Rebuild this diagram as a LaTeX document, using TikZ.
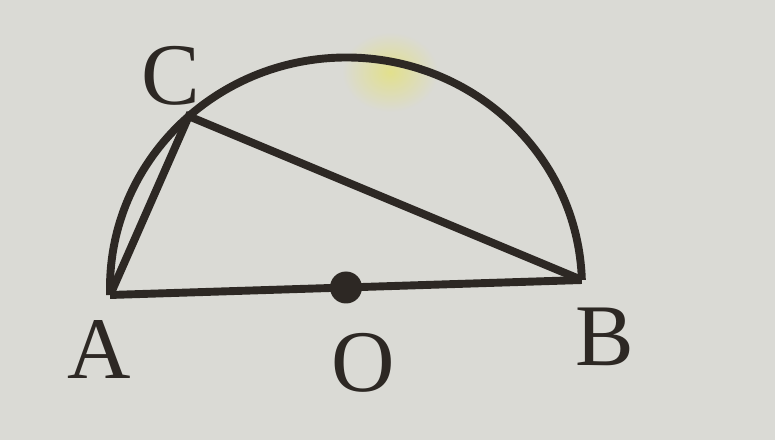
\documentclass[tikz,border=0pt]{standalone}
\usepackage{fontspec}
\setmainfont{Liberation Serif}
\definecolor{paper}{RGB}{218,218,213}
\definecolor{ink}{RGB}{45,40,36}
\definecolor{stain}{RGB}{226,224,140}

\begin{document}
\begin{tikzpicture}[x=0.02cm,y=0.02cm,line width=4.5pt,ink,
  lbl/.style={font=\fontsize{50}{60}\selectfont,text=ink}]
\fill[paper] (0,0) rectangle (775,440);
\useasboundingbox (0,0) rectangle (775,440);
% yellow mark on the page
\shade[inner color=stain,outer color=paper] (390,368) ellipse [x radius=48,y radius=40];
\begin{scope}[shift={(346,152.5)},rotate=1.82]
\coordinate (A) at (-236,0);
\coordinate (B) at (236,0);
\coordinate (O) at (0,0);
\coordinate (C) at (130:236 and 230);
\draw (B) arc[start angle=0,end angle=180,x radius=236,y radius=230];
\end{scope}
\draw (A) -- (B);
\draw (A) -- (C) -- (B);
\fill (O) circle (16);
\node[lbl] (labA) at (99,90) {A};
\node[lbl] (labB) at (605,103) {B};
\node[lbl] (labC) at (171,364) {C};
\node[lbl] (labO) at (363,77) {O};
\end{tikzpicture}
\end{document}
